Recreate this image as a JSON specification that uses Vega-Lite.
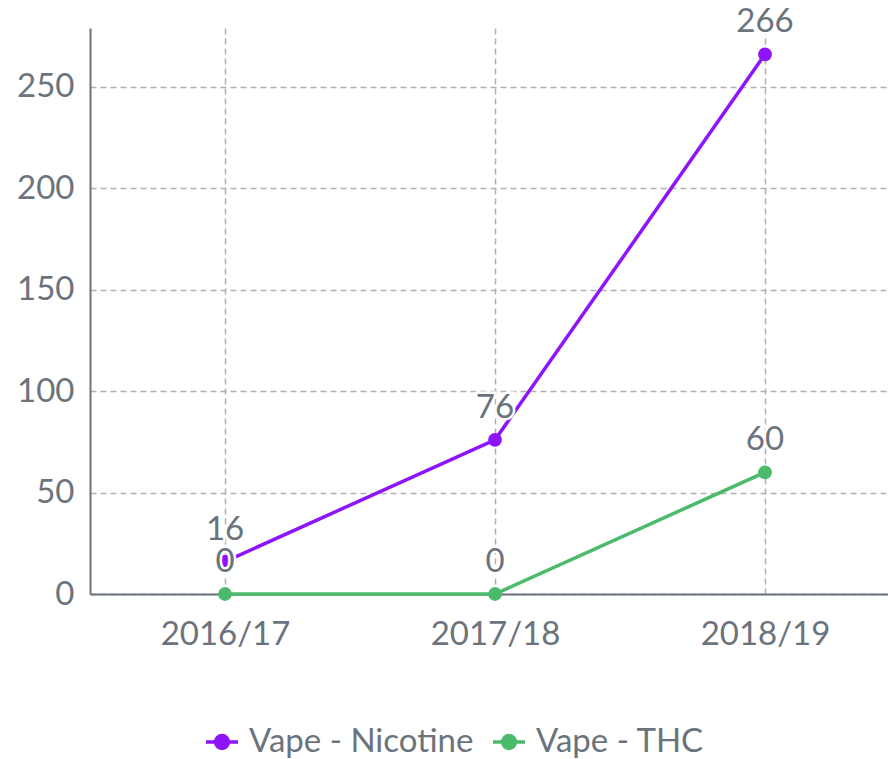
{
  "$schema": "https://vega.github.io/schema/vega-lite/v6.json",
  "width": 798,
  "height": 566,
  "autosize": {"type": "none"},
  "padding": {"left": 90, "top": 28, "right": 0, "bottom": 165},
  "background": "white",
  "config": {
    "font": "Lato",
    "view": {"stroke": null},
    "axis": {
      "labelFont": "Lato",
      "labelFontSize": 33,
      "labelColor": "#6b737c",
      "domainColor": "#6b737c",
      "domainWidth": 2,
      "ticks": false,
      "gridColor": "#aeb1b5",
      "gridDash": [6, 4],
      "gridWidth": 1.5,
      "title": null
    }
  },
  "data": {
    "values": [
      {"year": "2016/17", "series": "Vape - Nicotine", "value": 16},
      {"year": "2017/18", "series": "Vape - Nicotine", "value": 76},
      {"year": "2018/19", "series": "Vape - Nicotine", "value": 266},
      {"year": "2016/17", "series": "Vape - THC", "value": 0},
      {"year": "2017/18", "series": "Vape - THC", "value": 0},
      {"year": "2018/19", "series": "Vape - THC", "value": 60}
    ]
  },
  "encoding": {
    "x": {
      "field": "year",
      "type": "ordinal",
      "scale": {"type": "point", "padding": 0.4778, "align": 0.5233},
      "axis": {"labelAngle": 0, "labelPadding": 24, "grid": true}
    },
    "y": {
      "field": "value",
      "type": "quantitative",
      "scale": {"domain": [0, 279], "nice": false},
      "axis": {"values": [0, 50, 100, 150, 200, 250], "labelPadding": 16, "grid": true}
    },
    "color": {
      "field": "series",
      "type": "nominal",
      "scale": {"domain": ["Vape - Nicotine", "Vape - THC"], "range": ["#8e14f9", "#4bbb6b"]},
      "legend": {
        "title": null,
        "orient": "none",
        "direction": "horizontal",
        "legendX": 114,
        "legendY": 696,
        "labelFont": "Lato",
        "labelFontSize": 33,
        "labelColor": "#6b737c",
        "labelLimit": 0,
        "symbolType": "M-1,0H1M0.4,0A0.4,0.4 0 1,1 -0.4,0A0.4,0.4 0 1,1 0.4,0Z",
        "symbolSize": 1024,
        "symbolStrokeWidth": 3.5,
        "columnPadding": 12,
        "labelOffset": 9,
        "encode": {
          "symbols": {"update": {"fill": {"scale": "color", "field": "value"}, "fillOpacity": {"value": 1}}}
        }
      }
    }
  },
  "layer": [
    {"mark": {"type": "line", "strokeWidth": 3.5}},
    {"mark": {"type": "point", "filled": true, "size": 190, "opacity": 1}},
    {
      "mark": {"type": "text", "fontSize": 33, "dy": -22, "baseline": "alphabetic", "fill": "white", "stroke": "white", "strokeWidth": 5, "font": "Lato"},
      "encoding": {"text": {"field": "value", "type": "quantitative"}, "color": {"value": "white"}}
    },
    {
      "mark": {"type": "text", "fontSize": 33, "dy": -22, "baseline": "alphabetic", "font": "Lato"},
      "encoding": {"text": {"field": "value", "type": "quantitative"}, "color": {"value": "#6b737c"}}
    }
  ]
}
